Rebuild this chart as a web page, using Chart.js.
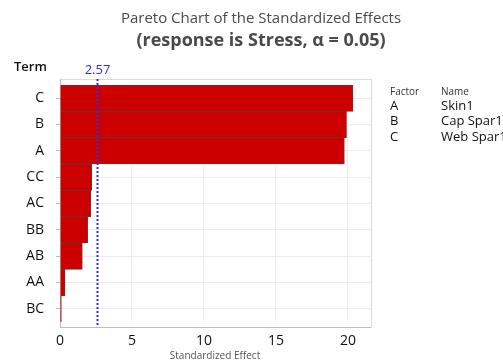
<!DOCTYPE html>
<html>
<head>
<meta charset="utf-8">
<script src="https://cdn.jsdelivr.net/npm/chart.js@4"></script>
<style>
  html, body { margin: 0; padding: 0; background: #fff; }
  #wrap { width: 503px; height: 363px; }
</style>
</head>
<body>
<div id="wrap"><canvas id="paretoChart" width="503" height="363"></canvas></div>
<script>
const terms = ['C', 'B', 'A', 'CC', 'AC', 'BB', 'AB', 'AA', 'BC'];
const effects = [20.35, 19.9, 19.75, 2.2, 2.13, 1.92, 1.55, 0.35, 0.09];
const xTicks = [0, 5, 10, 15, 20];
const critical = 2.57;
const factors = ['A', 'B', 'C'];
const factorNames = ['Skin1', 'Cap Spar1', 'Web Spar1'];

const font = "'Open Sans', 'Noto Sans', sans-serif";

const decorations = {
    id: 'decorations',
    beforeDatasetsDraw(chart) {
        const ctx = chart.ctx;
        const a = chart.chartArea;
        ctx.save();
        // frame
        ctx.strokeStyle = '#dcdcdc';
        ctx.lineWidth = 1;
        ctx.strokeRect(a.left + 0.5, a.top - 6 + 0.5, a.right - a.left, a.bottom - a.top + 11);
        ctx.strokeStyle = '#bdbdbd';
        ctx.beginPath();
        ctx.moveTo(a.left + 0.5, a.top - 6);
        ctx.lineTo(a.left + 0.5, a.bottom + 5.5);
        ctx.lineTo(a.right, a.bottom + 5.5);
        ctx.stroke();
        ctx.restore();
    },
    afterDatasetsDraw(chart) {
        const ctx = chart.ctx;
        const a = chart.chartArea;
        const x = Math.round(chart.scales.x.getPixelForValue(critical)) + 0.5;
        ctx.save();
        ctx.strokeStyle = '#2a2aff';
        ctx.lineWidth = 2;
        ctx.setLineDash([2, 2]);
        ctx.beginPath();
        ctx.moveTo(x, a.top - 6);
        ctx.lineTo(x, a.bottom + 5);
        ctx.stroke();
        ctx.setLineDash([]);
        ctx.fillStyle = '#2a2aff';
        ctx.font = '13px ' + font;
        ctx.textAlign = 'center';
        ctx.textBaseline = 'middle';
        ctx.fillText(critical.toFixed(2), x, 70);

        // titles
        ctx.fillStyle = '#4a4a4a';
        ctx.font = '15px ' + font;
        ctx.fillText('Pareto Chart of the Standardized Effects', 261, 19);
        ctx.font = 'bold 18px ' + font;
        ctx.fillText('(response is Stress, \u03b1 = 0.05)', 261, 41);

        ctx.fillStyle = '#111';
        ctx.font = '600 13px ' + font;
        ctx.textAlign = 'left';
        ctx.fillText('Term', 14, 67);

        ctx.fillStyle = '#555';
        ctx.font = '10px ' + font;
        ctx.textAlign = 'center';
        ctx.fillText('Standardized Effect', 215, 356);

        // factor table
        ctx.fillStyle = '#333';
        ctx.textAlign = 'left';
        ctx.font = '10px ' + font;
        ctx.fillText('Factor', 390, 92);
        ctx.fillText('Name', 441, 92);
        ctx.font = '13px ' + font;
        ctx.fillStyle = '#111';
        factors.forEach((f, i) => {
            ctx.fillText(f, 390, 106 + i * 15.5);
            ctx.fillText(factorNames[i], 441, 106 + i * 15.5);
        });
        ctx.restore();
    }
};

const ctx = document.getElementById('paretoChart').getContext('2d');
new Chart(ctx, {
    type: 'bar',
    data: {
        labels: terms,
        datasets: [{
            data: effects,
            backgroundColor: '#cc0000',
            borderColor: '#7e2a2a',
            borderWidth: 1,
            borderSkipped: 'left',
            barPercentage: 1,
            categoryPercentage: 1
        }]
    },
    options: {
        indexAxis: 'y',
        responsive: false,
        animation: false,
        layout: { padding: { top: 85, right: 132, left: 0, bottom: 0 } },
        plugins: {
            legend: { display: false },
            tooltip: { enabled: false }
        },
        scales: {
            x: {
                min: 0,
                max: 21.6,
                afterBuildTicks: scale => { scale.ticks = xTicks.map(v => ({ value: v })); },
                afterFit: scale => { scale.height = 41; },
                grid: { color: '#ececec', drawTicks: false },
                border: { display: false },
                ticks: { color: '#111', padding: 11, font: { family: font, size: 14 } }
            },
            y: {
                afterFit: scale => { scale.width = 60; },
                grid: { color: '#ececec', offset: false, tickLength: 4, tickColor: '#bdbdbd' },
                border: { display: false },
                ticks: { color: '#111', padding: 12, font: { family: font, size: 14 } }
            }
        }
    },
    plugins: [decorations]
});
</script>
</body>
</html>
